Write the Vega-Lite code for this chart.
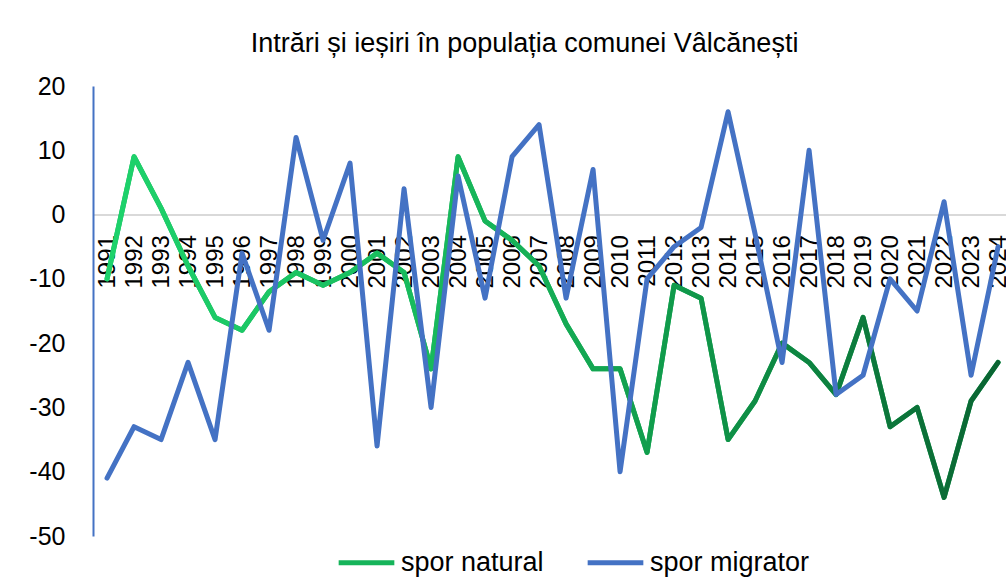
{
  "$schema": "https://vega.github.io/schema/vega-lite/v6.json",
  "width": 913,
  "height": 450,
  "autosize": {"type": "none"},
  "padding": {"left": 93, "top": 86, "right": 0, "bottom": 47},
  "background": "white",
  "title": {
    "text": "Intrări și ieșiri în populația comunei Vâlcănești",
    "font": "Liberation Sans",
    "fontSize": 27,
    "fontWeight": "normal",
    "color": "#000000",
    "anchor": "middle",
    "offset": 16,
    "dx": -25
  },
  "config": {
    "view": {"stroke": null},
    "font": "Liberation Sans"
  },
  "datasets": {
    "pop": [
      {"year": 1991, "series": "spor natural", "value": -10},
      {"year": 1992, "series": "spor natural", "value": 9},
      {"year": 1993, "series": "spor natural", "value": 1},
      {"year": 1994, "series": "spor natural", "value": -8},
      {"year": 1995, "series": "spor natural", "value": -16},
      {"year": 1996, "series": "spor natural", "value": -18},
      {"year": 1997, "series": "spor natural", "value": -12},
      {"year": 1998, "series": "spor natural", "value": -9},
      {"year": 1999, "series": "spor natural", "value": -11},
      {"year": 2000, "series": "spor natural", "value": -9},
      {"year": 2001, "series": "spor natural", "value": -6},
      {"year": 2002, "series": "spor natural", "value": -9},
      {"year": 2003, "series": "spor natural", "value": -24},
      {"year": 2004, "series": "spor natural", "value": 9},
      {"year": 2005, "series": "spor natural", "value": -1},
      {"year": 2006, "series": "spor natural", "value": -4},
      {"year": 2007, "series": "spor natural", "value": -8},
      {"year": 2008, "series": "spor natural", "value": -17},
      {"year": 2009, "series": "spor natural", "value": -24},
      {"year": 2010, "series": "spor natural", "value": -24},
      {"year": 2011, "series": "spor natural", "value": -37},
      {"year": 2012, "series": "spor natural", "value": -11},
      {"year": 2013, "series": "spor natural", "value": -13},
      {"year": 2014, "series": "spor natural", "value": -35},
      {"year": 2015, "series": "spor natural", "value": -29},
      {"year": 2016, "series": "spor natural", "value": -20},
      {"year": 2017, "series": "spor natural", "value": -23},
      {"year": 2018, "series": "spor natural", "value": -28},
      {"year": 2019, "series": "spor natural", "value": -16},
      {"year": 2020, "series": "spor natural", "value": -33},
      {"year": 2021, "series": "spor natural", "value": -30},
      {"year": 2022, "series": "spor natural", "value": -44},
      {"year": 2023, "series": "spor natural", "value": -29},
      {"year": 2024, "series": "spor natural", "value": -23},
      {"year": 1991, "series": "spor migrator", "value": -41},
      {"year": 1992, "series": "spor migrator", "value": -33},
      {"year": 1993, "series": "spor migrator", "value": -35},
      {"year": 1994, "series": "spor migrator", "value": -23},
      {"year": 1995, "series": "spor migrator", "value": -35},
      {"year": 1996, "series": "spor migrator", "value": -6},
      {"year": 1997, "series": "spor migrator", "value": -18},
      {"year": 1998, "series": "spor migrator", "value": 12},
      {"year": 1999, "series": "spor migrator", "value": -4},
      {"year": 2000, "series": "spor migrator", "value": 8},
      {"year": 2001, "series": "spor migrator", "value": -36},
      {"year": 2002, "series": "spor migrator", "value": 4},
      {"year": 2003, "series": "spor migrator", "value": -30},
      {"year": 2004, "series": "spor migrator", "value": 6},
      {"year": 2005, "series": "spor migrator", "value": -13},
      {"year": 2006, "series": "spor migrator", "value": 9},
      {"year": 2007, "series": "spor migrator", "value": 14},
      {"year": 2008, "series": "spor migrator", "value": -13},
      {"year": 2009, "series": "spor migrator", "value": 7},
      {"year": 2010, "series": "spor migrator", "value": -40},
      {"year": 2011, "series": "spor migrator", "value": -10},
      {"year": 2012, "series": "spor migrator", "value": -5},
      {"year": 2013, "series": "spor migrator", "value": -2},
      {"year": 2014, "series": "spor migrator", "value": 16},
      {"year": 2015, "series": "spor migrator", "value": -3},
      {"year": 2016, "series": "spor migrator", "value": -23},
      {"year": 2017, "series": "spor migrator", "value": 10},
      {"year": 2018, "series": "spor migrator", "value": -28},
      {"year": 2019, "series": "spor migrator", "value": -25},
      {"year": 2020, "series": "spor migrator", "value": -10},
      {"year": 2021, "series": "spor migrator", "value": -15},
      {"year": 2022, "series": "spor migrator", "value": 2},
      {"year": 2023, "series": "spor migrator", "value": -25},
      {"year": 2024, "series": "spor migrator", "value": -5}
    ]
  },
  "data": {"name": "pop"},
  "encoding": {
    "x": {
      "field": "year",
      "type": "quantitative",
      "scale": {"domain": [1990.48, 2024.293], "nice": false, "zero": false},
      "axis": {
        "title": null,
        "values": [1991,1992,1993,1994,1995,1996,1997,1998,1999,2000,2001,2002,2003,2004,2005,2006,2007,2008,2009,2010,2011,2012,2013,2014,2015,2016,2017,2018,2019,2020,2021,2022,2023,2024],
        "format": "d",
        "offset": -321.4,
        "labelAngle": -90,
        "labelAlign": "right",
        "labelBaseline": "middle",
        "labelPadding": 20,
        "labelFontSize": 24,
        "labelColor": "#000000",
        "labelFont": "Liberation Sans",
        "labelOverlap": false,
        "labelFlush": false,
        "ticks": false,
        "grid": false,
        "domainColor": "#d9d9d9",
        "domainWidth": 2
      }
    },
    "y": {
      "field": "value",
      "type": "quantitative",
      "scale": {"domain": [-50, 20], "nice": false, "zero": false},
      "axis": {
        "title": null,
        "values": [-50, -40, -30, -20, -10, 0, 10, 20],
        "labelExpr": "'' + datum.value",
        "labelFontSize": 25,
        "labelColor": "#000000",
        "labelFont": "Liberation Sans",
        "labelPadding": 28,
        "ticks": false,
        "grid": false,
        "domainColor": "#4472C4",
        "domainWidth": 2
      }
    }
  },
  "layer": [
    {
      "transform": [{"filter": "datum.series === 'spor natural'"}],
      "mark": {"type": "line", "strokeWidth": 5, "strokeCap": "round", "strokeJoin": "round"},
      "encoding": {
        "color": {
          "field": "series",
          "type": "nominal",
          "scale": {"domain": ["spor natural", "spor migrator"], "range": ["#16B45A", "#4472C4"]},
          "legend": {
            "title": null,
            "orient": "none",
            "legendX": 243,
            "legendY": 446,
            "direction": "horizontal",
            "labelFontSize": 27,
            "labelColor": "#000000",
            "labelFont": "Liberation Sans",
            "symbolType": "stroke",
            "symbolSize": 3100,
            "symbolStrokeWidth": 5,
            "columnPadding": 33,
            "labelOffset": 4,
            "labelLimit": 400
          }
        }
      }
    },
    {
      "transform": [{"filter": "datum.series === 'spor natural'"}],
      "mark": {
        "type": "line",
        "strokeWidth": 5,
        "strokeCap": "round",
        "strokeJoin": "round",
        "stroke": {
          "gradient": "linear",
          "x1": 0, "y1": 0, "x2": 1, "y2": 0,
          "stops": [
            {"offset": 0, "color": "#1ED36C"},
            {"offset": 0.45, "color": "#16B358"},
            {"offset": 0.65, "color": "#10984A"},
            {"offset": 1, "color": "#0A6432"}
          ]
        }
      },
      "encoding": {}
    },
    {
      "transform": [{"filter": "datum.series === 'spor migrator'"}],
      "mark": {"type": "line", "strokeWidth": 5, "strokeCap": "round", "strokeJoin": "round"},
      "encoding": {
        "color": {"field": "series", "type": "nominal"}
      }
    }
  ]
}
